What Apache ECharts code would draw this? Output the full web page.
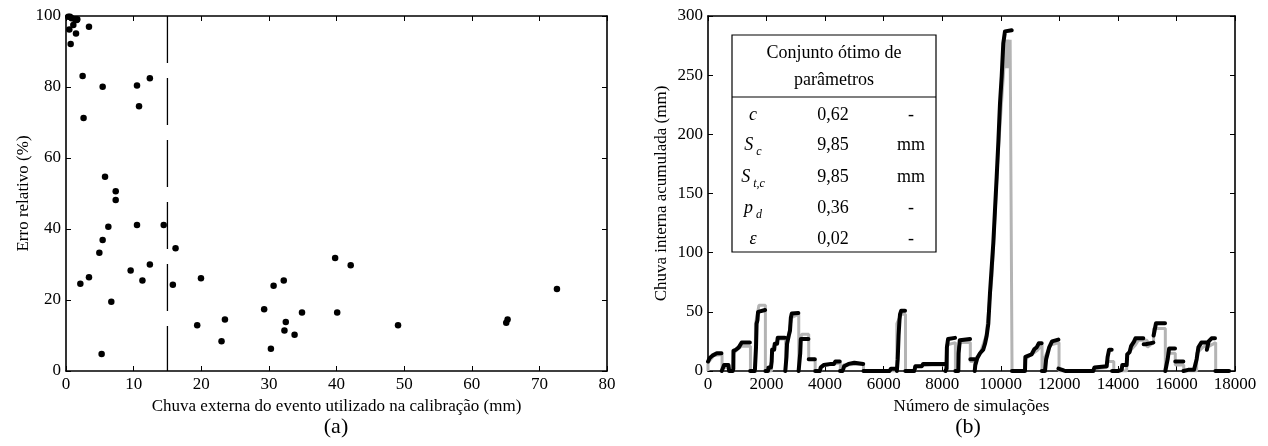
<!DOCTYPE html>
<html><head><meta charset="utf-8">
<script src="https://cdn.jsdelivr.net/npm/echarts/dist/echarts.min.js"></script>
<style>html,body{margin:0;padding:0;background:#fff}#c{width:1268px;height:446px}</style>
</head><body><div id="c"></div>
<script>
// ---------- Panel (a) data ----------
const calibX = [0.34,0.59,0.84,1.33,1.58,1.67,1.08,0.49,3.4,1.48,0.69,2.46,5.42,10.5,12.4,10.8,2.6,5.77,7.35,7.35,
  6.26,10.5,14.45,5.42,4.93,16.2,9.56,12.4,11.3,3.4,2.12,15.8,19.96,6.7,5.27,19.4,23.5,23.0,29.3,30.7,32.2,32.5,32.3,30.3,33.8,34.9,
  39.8,42.1,40.1,49.1,65.3,65.1,72.6];
const calibY = [99.8,99.8,99.4,99.1,98.9,99.1,97.5,96.2,97.0,95.1,92.1,83.1,80.1,80.4,82.5,74.6,71.3,54.7,50.6,48.2,
  40.6,41.1,41.1,36.9,33.3,34.6,28.3,30.0,25.5,26.4,24.6,24.3,26.1,19.5,4.8,12.9,14.5,8.4,17.4,24.0,25.5,13.8,11.4,6.3,10.2,16.5,
  31.8,29.8,16.5,12.9,14.5,13.6,23.1];
const limitX = [15, 15];
const limitY = [100, 0];
const aXTicks = {min:0, max:80, step:10};
const aYTicks = {min:0, max:100, step:20};

// ---------- Panel (b) data ----------
// simulated (black); null value = break in the line
const simN = [0,60,150,300,460,460,470,530,550,700,720,850,865,870,950,1050,1150,1430,1430,
  1440,1600,1610,1640,1660,1690,1710,1740,1950,1950,
  1960,2050,2070,2150,2175,2190,2260,2280,2360,2380,2630,2630,
  2640,2665,2680,2700,2760,2800,2830,2860,3085,3085,
  3095,3140,3150,3170,3430,3430,3440,3650,3650,
  3660,3820,3850,3950,4200,4300,4350,4500,4500,
  4510,4600,4650,4800,5000,5300,5300,
  5310,6200,6250,6440,6440,
  6450,6480,6510,6540,6560,6600,6730,6730,
  6740,7050,7080,7300,7350,7640,7680,8100,8100,
  8110,8150,8160,8200,8437,8437,
  8447,8550,8560,8600,8650,8950,8950,
  8960,9100,9100,
  9110,9130,9200,9290,9400,9461,9520,9574,9632,9745,9800,9860,9920,9973,10031,10086,10144,10200,10372,10372,
  10380,10827,10840,10900,11050,11150,11226,11300,11397,11397,
  11400,11510,11550,11650,11750,11966,11966,
  11970,12100,12200,13160,13200,13617,13650,13700,13788,13788,
  13800,14000,14130,14150,14300,14320,14400,14450,14550,14600,14868,14868,
  14880,14950,15000,15211,15211,
  15220,15300,15610,15610,
  15620,15700,15750,15951,15951,
  15960,16235,16235,
  16240,16400,16600,16690,16750,16850,17032,17032,
  17040,17100,17200,17317,17317,
  17330,17800];
const simV = [8,11,13,15,15,null,0,1,5,5,0,0,2,17,18,20,24,24,null,
  0,0,5,20,40,43,50,51.5,51.5,null,
  0,0,3,3,8,18,18,23,23,28,28,null,
  0,0,12,23,30,34,45,48.5,49,null,
  0,0,15,27,27,null,10,10,null,
  0,0,3,5,6,6,8,8,null,
  0,0,4,6,7,6,null,
  0,0,2,2,null,
  0,10,30,43,48,51,51,null,
  0,0,4,4,6,6,5,6,null,
  0,2,20,27,28,null,
  0,0,15,26,27,27,null,
  10,10,null,
  0,5,11,15,18,23,30,40,66,108,135,164,195,226,249,277,287,288,288,null,
  0,0,12,13.5,14,18.6,20,23.4,23.4,null,
  0,0,10,19.7,25,26.5,null,
  2,1,0,0,3,4,12,18,18,null,
  0,0,1,5,5,14,16,21,24.8,27.6,27.6,null,
  22.6,22.6,24,24,null,
  30,40.3,40.3,null,
  0,10,19,19,null,
  8,8,null,
  0,1,1,10,20,24,24,null,
  18,25,27.6,27.6,null,
  0,0];
// observed (grey)
const obsN = [0,0,100,200,480,480, 520,520,720,720, 870,870,1000,1150,1450,1450,
  1620,1620,1700,1740,1960,1960, 2170,2170,2300,2400,2650,2650,
  2670,2670,2750,2850,3100,3100, 3150,3150,3200,3440,3440,3660,3660,
  3850,3850,4300,4520,4520, 4620,4620,5310,5310,
  6450,6450,6600,6745,6745, 7070,7070,7650,8120,8120,
  8150,8150,8450,8450, 8550,8550,8620,8960,8960,9110,9110,
  9120,9120,9300,9500,9700,9900,10100,10160,10200,10240,10280,10320,10385,10385,
  10830,10830,11000,11230,11410,11410, 11510,11510,11700,11990,11990,
  13160,13160,13620,13620,13860,13860,
  14300,14300,14600,14700,15000,15000,15220,15220,15620,15620,
  15670,15670,15960,15960,16250,16250,
  16690,16690,16900,17040,17040,17340,17340];
const obsV = [0,7,10,13,14,0, 0,3,3,0, 0,15,18,21,21,0,
  0,40,50,55.5,55.5,0, 0,18,23,27,27,0,
  0,20,30,45,48,0, 0,25,31,31,10,10,0,
  0,4,6,7,0, 0,5,6,0,
  0,40,48,48,0, 0,4,5,5,0,
  0,22,24,0, 0,20,24,24,8,8,0,
  0,10,15,30,80,180,254,280,256,280,256,280,280,0,
  0,10,13,17,22,0, 0,12,22,24,0,
  0,2,3,8,8,0,
  0,14,22,26,26,20,24,36,36,0,
  0,15,15,5,5,0,
  0,15,20,22,20,24,0];
const bXTicks = {min:0, max:18000, step:2000};
const bYTicks = {min:0, max:300, step:50};

// table content
const tableTitle = ['Conjunto ótimo de', 'parâmetros'];
const paramSymbols = ['{i|c}', '{i|S}{s| c}', '{i|S}{s| t,c}', '{i|p}{s| d}', '{i|ε}'];
const paramValues = ['0,62', '9,85', '9,85', '0,36', '0,02'];
const paramUnits = ['-', 'mm', 'mm', '-', '-'];

// ---------- build ----------
const FONT = 'Liberation Serif';
const txt = {color:'#000', fontFamily:FONT, fontSize:17};
function axisPair(grid, t, name, gap, isX) {
  const common = {gridIndex:grid, type:'value', min:t.min, max:t.max, interval:t.step,
    splitLine:{show:false},
    axisLine:{show:true, onZero:false, lineStyle:{color:'#000', width:1.6}},
    axisTick:{show:true, inside:true, length:5, lineStyle:{color:'#000', width:1}}};
  const main = Object.assign({}, common, {
    position: isX ? 'bottom' : 'left',
    axisLabel:Object.assign({margin:5, showMinLabel:true, showMaxLabel:true, formatter:(v)=>String(v)}, txt),
    name:name, nameLocation:'middle', nameGap:gap, nameTextStyle:Object.assign({}, txt)});
  const opp = Object.assign({}, common, {position: isX ? 'top' : 'right', axisLabel:{show:false}});
  return [main, opp];
}
const xA = axisPair(0, aXTicks, 'Chuva externa do evento utilizado na calibração (mm)', 27, true);
const yA = axisPair(0, aYTicks, 'Erro relativo (%)', 33, false);
const xB = axisPair(1, bXTicks, 'Número de simulações', 27, true);
const yB = axisPair(1, bYTicks, 'Chuva interna acumulada (mm)', 38, false);

const calibData = calibX.map((x,i)=>[x, calibY[i]]);
const limitData = limitX.map((x,i)=>[x, limitY[i]]);
const simData = simN.map((n,i)=> simV[i]===null ? [n,'-'] : [n, simV[i]]);
const obsData = obsN.map((n,i)=>[n, obsV[i]]);

// table graphic
const TX = 732, TY = 35, TW = 204, TH = 217, HSEP = 97;
const colSym = 753, colVal = 833, colUnit = 911;
const rowY = [115, 145, 177, 208, 239];
const tableEls = [
  {type:'rect', shape:{x:TX, y:TY, width:TW, height:TH}, style:{fill:'#fff', stroke:'#000', lineWidth:1.2}, z:10},
  {type:'line', shape:{x1:TX, y1:HSEP, x2:TX+TW, y2:HSEP}, style:{stroke:'#000', lineWidth:1.2}, z:11},
  {type:'text', style:{text:tableTitle[0], x:TX+TW/2, y:53, align:'center', verticalAlign:'middle', font:'18px "Liberation Serif"', fill:'#000'}, z:11},
  {type:'text', style:{text:tableTitle[1], x:TX+TW/2, y:80, align:'center', verticalAlign:'middle', font:'18px "Liberation Serif"', fill:'#000'}, z:11}
];
paramSymbols.forEach((s,i)=>{
  tableEls.push({type:'text', z:11, style:{text:s, x:colSym, y:rowY[i], align:'center', verticalAlign:'middle',
    rich:{i:{fontFamily:FONT, fontStyle:'italic', fontSize:18, lineHeight:26, verticalAlign:'middle', fill:'#000'},
          s:{fontFamily:FONT, fontStyle:'italic', fontSize:12, lineHeight:26, verticalAlign:'bottom', fill:'#000'}}}});
  tableEls.push({type:'text', z:11, style:{text:paramValues[i], x:colVal, y:rowY[i], align:'center', verticalAlign:'middle', font:'18px "Liberation Serif"', fill:'#000'}});
  tableEls.push({type:'text', z:11, style:{text:paramUnits[i], x:colUnit, y:rowY[i], align:'center', verticalAlign:'middle', font:'18px "Liberation Serif"', fill:'#000'}});
});
tableEls.push({type:'text', z:11, style:{text:'(a)', x:336, y:427, align:'center', verticalAlign:'middle', font:'22px "Liberation Serif"', fill:'#000'}});
tableEls.push({type:'text', z:11, style:{text:'(b)', x:968, y:427, align:'center', verticalAlign:'middle', font:'22px "Liberation Serif"', fill:'#000'}});

const option = {
  animation:false,
  backgroundColor:'#fff',
  grid:[{left:66, top:16, width:541, height:355}, {left:708, top:16, width:527, height:355}],
  xAxis:[xA[0], xA[1], xB[0], xB[1]],
  yAxis:[yA[0], yA[1], yB[0], yB[1]],
  series:[
    {type:'line', xAxisIndex:0, yAxisIndex:0, data:limitData, symbol:'none', silent:true,
      lineStyle:{color:'#000', width:1.3, type:[47,15]}},
    {type:'scatter', xAxisIndex:0, yAxisIndex:0, data:calibData, symbol:'circle', symbolSize:6.5,
      itemStyle:{color:'#000', opacity:1}},
    {type:'line', xAxisIndex:2, yAxisIndex:2, data:obsData, symbol:'none', connectNulls:false,
      lineStyle:{color:'#b4b4b4', width:3}},
    {type:'line', xAxisIndex:2, yAxisIndex:2, data:simData, symbol:'none', connectNulls:false,
      lineStyle:{color:'#000', width:4, cap:'round', join:'round'}}
  ],
  graphic:tableEls
};
const chart = echarts.init(document.getElementById('c'), null, {renderer:'canvas'});
chart.setOption(option);
</script></body></html>
